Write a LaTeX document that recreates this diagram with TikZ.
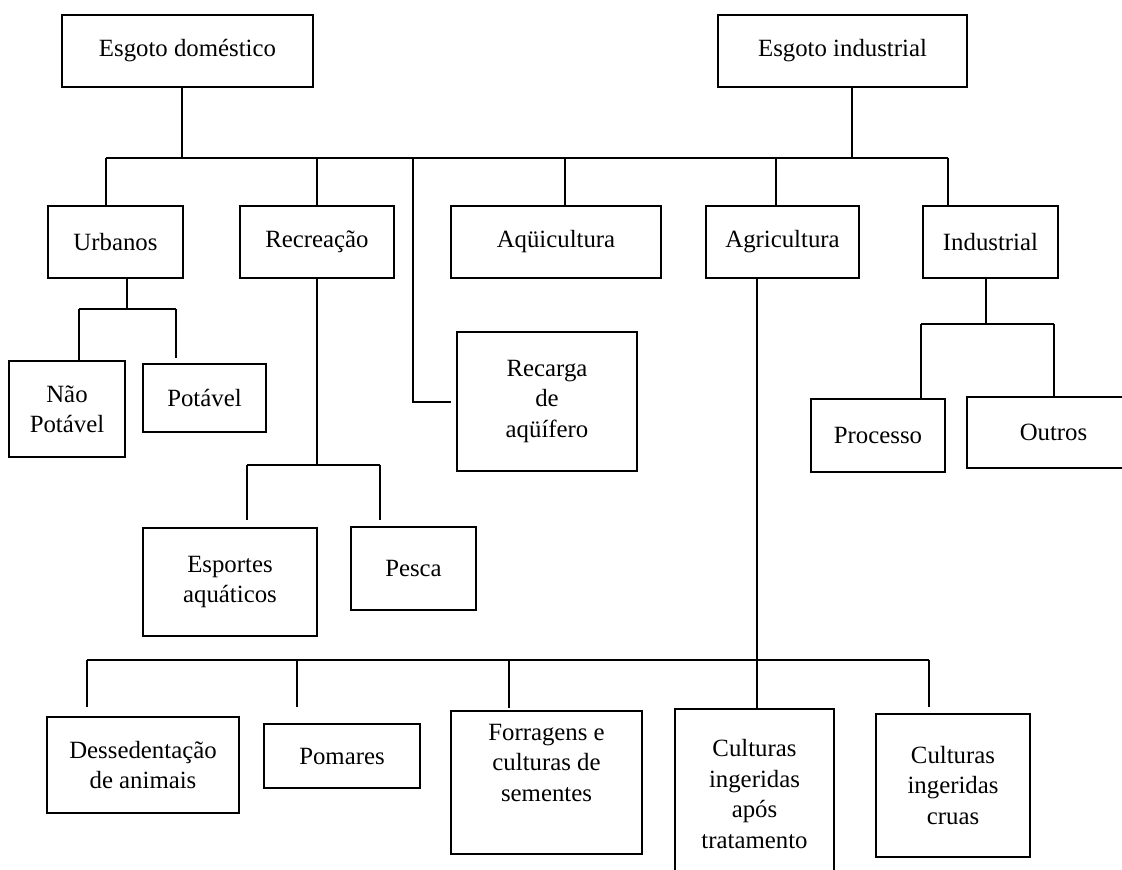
\documentclass[tikz,border=0pt]{standalone}
\usepackage{fontspec}
\setmainfont{Liberation Serif}
\usepackage{tikz}

\begin{document}
\begin{tikzpicture}[x=1pt,y=-1pt,line width=2pt,
	caixa/.style={draw,rectangle,inner sep=0pt,outer sep=0pt,align=center,
		font=\fontsize{24.8}{30.4}\selectfont}]

	\useasboundingbox (0,0) rectangle (1122,870);

	% nivel 1
	\node[caixa,minimum width=251pt,minimum height=72pt] (domestico) at (187.5,51) {Esgoto doméstico};
	\node[caixa,minimum width=249pt,minimum height=72pt] (industrial) at (842.5,51) {Esgoto industrial};

	% nivel 2
	\node[caixa,minimum width=135pt,minimum height=72pt] (urbanos) at (115.5,242) {Urbanos};
	\node[caixa,minimum width=154pt,minimum height=72pt] (recreacao) at (317,242) {Recreação};
	\node[caixa,minimum width=210pt,minimum height=72pt] (aquicultura) at (556,242) {Aqüicultura};
	\node[caixa,minimum width=153pt,minimum height=72pt] (agricultura) at (782.5,242) {Agricultura};
	\node[caixa,minimum width=135pt,minimum height=72pt] (industria) at (990.5,242) {Industrial};

	% nivel 3
	\node[caixa,minimum width=116pt,minimum height=96pt] (naopotavel) at (67,409) {Não\\Potável};
	\node[caixa,minimum width=123pt,minimum height=68pt] (potavel) at (204.5,398) {Potável};
	\node[caixa,minimum width=180pt,minimum height=139pt] (recarga) at (547,401.5) {Recarga\\de\\aqüífero};
	\node[caixa,minimum width=174pt,minimum height=108pt] (esportes) at (230,582) {Esportes\\aquáticos};
	\node[caixa,minimum width=125pt,minimum height=83pt] (pesca) at (413.5,568.5) {Pesca};
	\node[caixa,minimum width=134pt,minimum height=73pt] (processo) at (878,435.5) {Processo};
	\node[caixa,minimum width=173pt,minimum height=71pt] (outros) at (1053.5,432.5) {Outros};

	% agricultura
	\node[caixa,minimum width=192pt,minimum height=96pt] (dessed) at (143,765) {Dessedentação\\de animais};
	\node[caixa,minimum width=156pt,minimum height=64pt] (pomares) at (342,756) {Pomares};
	\node[caixa,minimum width=191pt,minimum height=143pt] (forragens) at (546.5,782.5) {Forragens e\\culturas de\\sementes\\\strut};
	\node[caixa,minimum width=159pt,minimum height=170pt] (apostrat) at (754.5,794) {Culturas\\ingeridas\\após\\tratamento};
	\node[caixa,minimum width=154pt,minimum height=143pt] (cruas) at (953,785.5) {Culturas\\ingeridas\\cruas};

	% barra principal
	\coordinate (jd) at (182,158);
	\coordinate (ji) at (852,158);
	\coordinate (ju) at (106,158);
	\coordinate (jr) at (317,158);
	\coordinate (jrc) at (413,158);
	\coordinate (jaq) at (565,158);
	\coordinate (jag) at (776,158);
	\coordinate (jin) at (948,158);

	\draw (domestico.south -| jd) -- (jd);
	\draw (industrial.south -| ji) -- (ji);
	\draw (ju) -- (jin);
	\draw (ju) -- (ju |- urbanos.north);
	\draw (jr) -- (jr |- recreacao.north);
	\draw[shorten >=6pt] (jrc) |- (recarga.west);
	\draw (jaq) -- (jaq |- aquicultura.north);
	\draw (jag) -- (jag |- agricultura.north);
	\draw (jin) -- (jin |- industria.north);

	% urbanos
	\coordinate (ku) at (127,309);
	\coordinate (kn) at (79,309);
	\coordinate (kp) at (176,309);
	\draw (urbanos.south -| ku) -- (ku);
	\draw (kn) -- (kp);
	\draw (kn) -- (kn |- naopotavel.north);
	\draw[shorten >=6pt] (kp) -- (kp |- potavel.north);

	% recreacao
	\coordinate (kr) at (317,465);
	\coordinate (ke) at (247,465);
	\coordinate (kpe) at (380,465);
	\draw (recreacao.south) -- (kr);
	\draw (ke) -- (kpe);
	\draw[shorten >=8pt] (ke) -- (ke |- esportes.north);
	\draw[shorten >=7pt] (kpe) -- (kpe |- pesca.north);

	% industrial
	\coordinate (ki) at (986,324);
	\coordinate (kpr) at (921,324);
	\coordinate (ko) at (1054,324);
	\draw (industria.south -| ki) -- (ki);
	\draw (kpr) -- (ko);
	\draw (kpr) -- (kpr |- processo.north);
	\draw (ko) -- (ko |- outros.north);

	% agricultura
	\coordinate (ka) at (757,660);
	\coordinate (kd) at (87,660);
	\coordinate (kpo) at (297,660);
	\coordinate (kf) at (509,660);
	\coordinate (kc) at (929,660);
	\draw (agricultura.south -| ka) -- (ka |- apostrat.north);
	\draw (kd) -- (kc);
	\draw[shorten >=10pt] (kd) -- (kd |- dessed.north);
	\draw[shorten >=17pt] (kpo) -- (kpo |- pomares.north);
	\draw[shorten >=3pt] (kf) -- (kf |- forragens.north);
	\draw[shorten >=7pt] (kc) -- (kc |- cruas.north);

\end{tikzpicture}
\end{document}
